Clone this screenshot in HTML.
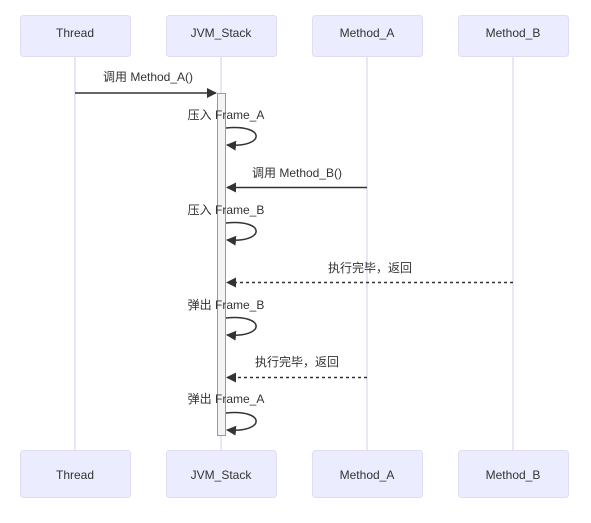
<!DOCTYPE html>
<html><head><meta charset="utf-8"><style>body{margin:0;background:#fff}svg{display:block}text{font-family:"Liberation Sans","Noto Sans CJK SC",sans-serif;font-size:12px;fill:#333}</style></head><body>
<svg width="591" height="523" viewBox="0 0 591 523" xmlns="http://www.w3.org/2000/svg">
<defs><marker id="a" markerWidth="12" markerHeight="12" refX="9" refY="5" orient="auto" markerUnits="userSpaceOnUse"><path d="M0,0 L10,5 L0,10 z" fill="#333"/></marker></defs>
<g stroke="#d5cdf0" stroke-width="1">
<line x1="75" y1="56" x2="75" y2="450"/><line x1="221" y1="56" x2="221" y2="450"/><line x1="367" y1="56" x2="367" y2="450"/><line x1="513" y1="56" x2="513" y2="450"/></g>
<g fill="#ececff" stroke="#e0dcf5">
<rect x="20.5" y="15.5" width="110" height="41" rx="3"/><rect x="166.5" y="15.5" width="110" height="41" rx="3"/><rect x="312.5" y="15.5" width="110" height="41" rx="3"/><rect x="458.5" y="15.5" width="110" height="41" rx="3"/>
<rect x="20.5" y="450.5" width="110" height="47" rx="3"/><rect x="166.5" y="450.5" width="110" height="47" rx="3"/><rect x="312.5" y="450.5" width="110" height="47" rx="3"/><rect x="458.5" y="450.5" width="110" height="47" rx="3"/></g>
<g text-anchor="middle">
<text x="75" y="37">Thread</text><text x="221" y="37">JVM_Stack</text><text x="367" y="37">Method_A</text><text x="513" y="37">Method_B</text>
<text x="75" y="479">Thread</text><text x="221" y="479">JVM_Stack</text><text x="367" y="479">Method_A</text><text x="513" y="479">Method_B</text>
</g>
<rect x="217.5" y="93.5" width="8" height="342" fill="#f4f4f4" stroke="#999"/>
<g stroke="#333" stroke-width="1.5" fill="none">
<line x1="75" y1="93" x2="216" y2="93" marker-end="url(#a)"/>
<line x1="367" y1="187.5" x2="227" y2="187.5" marker-end="url(#a)"/>
<line x1="513" y1="282.5" x2="227" y2="282.5" stroke-dasharray="3,3" marker-end="url(#a)"/>
<line x1="367" y1="377.5" x2="227" y2="377.5" stroke-dasharray="3,3" marker-end="url(#a)"/>
<path d="M226,128 C266,124 266,148 227,145" marker-end="url(#a)"/>
<path d="M226,223 C266,219 266,243 227,240" marker-end="url(#a)"/>
<path d="M226,318 C266,314 266,338 227,335" marker-end="url(#a)"/>
<path d="M226,413 C266,409 266,433 227,430" marker-end="url(#a)"/>
</g>
<g text-anchor="middle">
<text x="148" y="81">调用 Method_A()</text>
<text x="226" y="119">压入 Frame_A</text>
<text x="297" y="177">调用 Method_B()</text>
<text x="226" y="214">压入 Frame_B</text>
<text x="370" y="272">执行完毕，返回</text>
<text x="226" y="309">弹出 Frame_B</text>
<text x="297" y="366">执行完毕，返回</text>
<text x="226" y="403">弹出 Frame_A</text>
</g>
</svg>
</body></html>
